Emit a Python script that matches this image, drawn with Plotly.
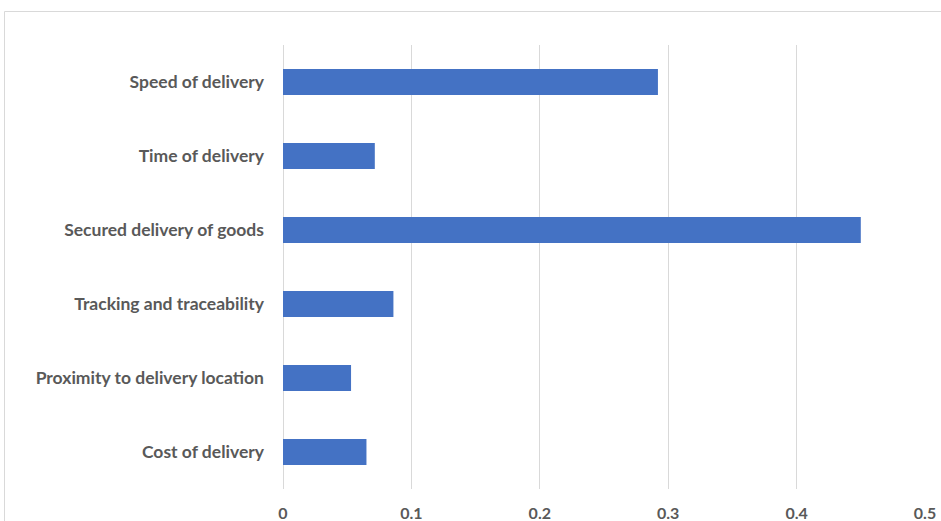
import plotly.graph_objects as go

categories = ["Cost of delivery", "Proximity to delivery location", "Tracking and traceability",
              "Secured delivery of goods", "Time of delivery", "Speed of delivery"]
values = [0.065, 0.053, 0.086, 0.450, 0.0715, 0.292]
x_ticks = [0, 0.1, 0.2, 0.3, 0.4, 0.5]
x_tick_labels = ["0", "0.1", "0.2", "0.3", "0.4", "0.5"]

W, H = 941, 521
ML, MR, MT, MB = 283, 16, 45, 32

fig = go.Figure(go.Bar(
    x=values, y=categories, orientation="h",
    marker=dict(color="#4472C4", line=dict(width=0)),
    width=0.35,
))

pw = W - ML - MR
ph = H - MT - MB
# outer chart border (light gray), extends beyond right/bottom edges
bx0 = (4.5 - ML) / pw
by1 = (H - 11.5 - MB) / ph
fig.add_shape(type="rect", xref="paper", yref="paper",
              x0=bx0, x1=1.2, y0=-0.3, y1=by1,
              line=dict(color="#D9D9D9", width=1), fillcolor="rgba(0,0,0,0)", layer="below")

fig.update_layout(
    width=W, height=H,
    margin=dict(l=ML, r=MR, t=MT, b=MB, autoexpand=False),
    paper_bgcolor="white", plot_bgcolor="white",
    showlegend=False,
    font=dict(family="Lato", size=17, color="#595959"),
)
fig.update_xaxes(
    range=[0, 0.5], tickvals=x_ticks, ticktext=x_tick_labels,
    showgrid=True, gridcolor="#D9D9D9", gridwidth=1,
    zeroline=True, zerolinecolor="#D9D9D9", zerolinewidth=1,
    showline=False, ticks="", ticklabelstandoff=13,
    tickfont=dict(family="Lato", size=16, color="#595959", weight="bold"),
    fixedrange=True,
)
fig.update_yaxes(
    showgrid=False, zeroline=False, showline=False, ticks="",
    ticklabelstandoff=18,
    tickfont=dict(family="Lato", size=17.5, color="#595959", weight="bold"),
    fixedrange=True,
)
fig.write_html("out.html", config={"displayModeBar": False},
               post_script="document.body.style.margin='0';document.body.style.overflow='hidden';")
